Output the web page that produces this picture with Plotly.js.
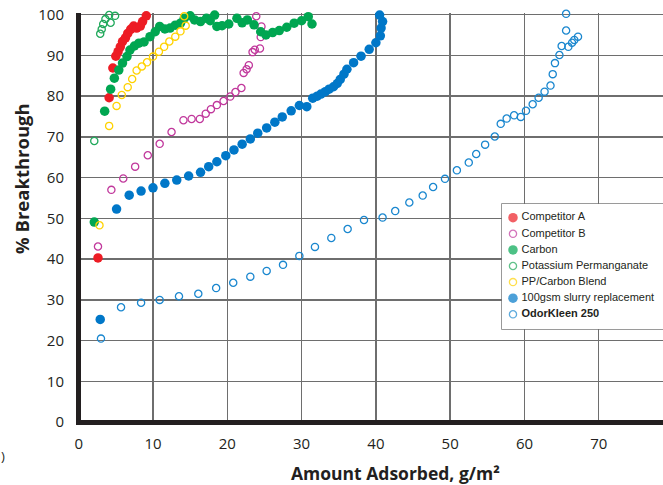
<!DOCTYPE html>
<html><head><meta charset="utf-8">
<script src="https://cdn.plot.ly/plotly-3.0.1.min.js"></script>
<style>html,body{margin:0;padding:0;background:#fff}</style>
</head><body>
<div id="chart" style="width:663px;height:485px"></div>
<script>
// ---- data ----
const seriesNames = ["Competitor A", "Competitor B", "Carbon", "Potassium Permanganate", "PP/Carbon Blend", "100gsm slurry replacement", "OdorKleen 250"];

const compA_x = [2.6, 4.1, 4.6, 5.0, 5.3, 5.6, 5.9, 6.3, 6.6, 7.0, 7.4, 7.8, 8.3, 8.6, 9.1];
const compA_y = [40.3, 79.6, 86.9, 89.8, 90.9, 92.1, 93.4, 94.3, 95.4, 96.4, 97.2, 96.7, 97.2, 98.3, 99.7];

const compB_x = [2.6, 4.4, 6.0, 7.6, 9.3, 10.9, 12.5, 14.1, 15.2, 16.3, 17.1, 17.8, 18.6, 19.5, 20.4, 21.1, 21.9, 22.2, 22.6, 22.9, 23.4, 23.7, 24.4, 24.5, 24.6, 23.9];
const compB_y = [43.1, 57.0, 59.8, 62.7, 65.5, 68.3, 71.2, 74.1, 74.4, 74.4, 75.7, 76.8, 77.8, 78.8, 79.9, 81.0, 82.0, 85.7, 86.6, 87.6, 90.8, 91.4, 91.7, 94.5, 97.1, 99.6];

const carbon_x = [2.1, 3.5, 4.3, 4.8, 5.4, 5.9, 6.5, 6.9, 7.5, 8.1, 8.8, 9.6, 10.3, 10.9, 11.6, 12.3, 13.0, 13.7, 14.2, 15.0, 15.6, 16.4, 17.2, 17.7, 18.3, 18.6, 19.3, 20.2, 21.3, 22.0, 22.7, 23.6, 24.5, 25.2, 26.1, 27.0, 28.0, 29.0, 30.0, 30.9, 31.4];
const carbon_y = [49.1, 76.3, 81.7, 84.4, 86.4, 88.1, 89.7, 91.3, 92.3, 93.0, 93.3, 94.6, 95.8, 97.1, 96.5, 96.7, 97.4, 97.9, 99.1, 99.7, 98.7, 98.3, 99.1, 98.5, 99.9, 97.1, 97.3, 97.7, 99.1, 98.0, 98.7, 97.5, 95.8, 95.0, 95.6, 96.1, 96.9, 97.9, 98.5, 99.5, 97.7];

const kmno4_x = [2.1, 2.9, 3.1, 3.3, 3.6, 4.1, 4.3, 4.9];
const kmno4_y = [69.0, 95.3, 96.4, 97.7, 98.9, 99.9, 98.0, 99.7];

const blend_x = [2.8, 4.1, 5.1, 5.8, 6.6, 7.2, 7.8, 8.5, 9.2, 10.0, 10.8, 11.5, 12.2, 13.0, 13.7, 14.4, 14.2];
const blend_y = [48.3, 72.7, 77.6, 80.3, 82.2, 84.2, 86.3, 87.3, 88.3, 89.7, 90.9, 92.1, 93.4, 94.6, 95.9, 97.3, 99.6];

const slurry_x = [2.9, 5.1, 6.8, 8.4, 10.0, 11.6, 13.2, 14.8, 16.4, 17.5, 18.6, 19.8, 20.9, 22.0, 23.1, 24.1, 25.3, 26.4, 27.4, 28.6, 29.7, 30.7, 31.5, 32.1, 32.6, 33.2, 33.7, 34.3, 34.8, 35.2, 35.7, 36.1, 37.0, 38.0, 39.1, 40.0, 40.6, 40.7, 40.9, 40.5];
const slurry_y = [25.2, 52.3, 55.7, 56.7, 57.5, 58.6, 59.4, 60.4, 61.3, 62.7, 63.9, 65.4, 66.8, 68.2, 69.5, 70.9, 72.2, 73.6, 74.9, 76.4, 77.7, 77.4, 79.5, 80.0, 80.5, 81.1, 81.7, 82.3, 83.1, 84.1, 85.4, 86.6, 88.2, 89.8, 91.5, 93.1, 94.8, 96.7, 98.3, 99.9];

const odor_x = [3.0, 5.7, 8.4, 10.9, 13.5, 16.1, 18.5, 20.8, 23.1, 25.3, 27.5, 29.7, 31.8, 34.0, 36.2, 38.4, 40.9, 42.6, 44.5, 46.3, 47.7, 49.3, 50.9, 52.5, 53.5, 54.7, 56.0, 56.8, 57.6, 58.6, 59.5, 60.2, 61.1, 61.9, 62.7, 63.5, 63.8, 64.1, 64.7, 65.0, 65.9, 66.4, 66.7, 67.2, 65.6, 65.6];
const odor_y = [20.5, 28.2, 29.3, 30.0, 30.9, 31.5, 32.9, 34.2, 35.7, 37.1, 38.6, 40.8, 43.0, 45.2, 47.4, 49.6, 50.2, 51.8, 53.9, 55.6, 57.7, 59.7, 61.8, 63.7, 65.8, 68.1, 70.1, 73.2, 74.5, 75.3, 74.9, 76.4, 78.0, 79.6, 81.1, 82.6, 85.4, 88.1, 90.1, 92.3, 92.1, 93.1, 93.8, 94.6, 96.1, 100.2];

const xTickVals = [0, 10, 20, 30, 40, 50, 60, 70];
const yTickVals = [0, 10, 20, 30, 40, 50, 60, 70, 80, 90, 100];

// ---- styles ----
const seriesX = [compA_x, compB_x, carbon_x, kmno4_x, blend_x, slurry_x, odor_x];
const seriesY = [compA_y, compB_y, carbon_y, kmno4_y, blend_y, slurry_y, odor_y];
const seriesColors = ["#ed1c24", "#c1389c", "#00a651", "#1fa85a", "#ffd200", "#0077c8", "#1a87cf"];
const seriesSymbols = ["circle", "circle-open", "circle", "circle-open", "circle-open", "circle", "circle-open"];

const traces = seriesNames.map((n, i) => ({
  type: "scatter", mode: "markers", name: n,
  x: seriesX[i], y: seriesY[i], cliponaxis: false, showlegend: false,
  marker: {
    symbol: seriesSymbols[i], color: seriesColors[i],
    size: seriesSymbols[i] === "circle" ? 9.5 : 7.2,
    line: {width: seriesSymbols[i] === "circle" ? 0 : 1.3, color: seriesColors[i]}
  },
  hoverinfo: "skip"
}));

// custom legend on an auxiliary subplot (units are pixels inside the box)
const legY = seriesNames.map((n, i) => 111.3 - 16.1 * i);
traces.push({
  type: "scatter", mode: "markers", xaxis: "x2", yaxis: "y2", showlegend: false,
  x: seriesNames.map(() => 11), y: legY, cliponaxis: false,
  marker: {
    symbol: seriesSymbols, color: seriesColors,
    size: seriesSymbols.map(s => s === "circle" ? 9.5 : 7.2),
    line: {width: seriesSymbols.map(s => s === "circle" ? 0 : 1.3), color: seriesColors}
  }, hoverinfo: "skip"
});
traces.push({
  type: "scatter", mode: "text", xaxis: "x2", yaxis: "y2", showlegend: false,
  x: seriesNames.map(() => 19.5), y: legY, cliponaxis: false,
  text: seriesNames.map((n, i) => i === seriesNames.length - 1 ? "<b>" + n + "</b>" : n),
  textposition: "middle right",
  textfont: {family: "Liberation Sans, Arial, sans-serif", size: 11, color: "#231f20"},
  hoverinfo: "skip"
});

const tickFont = {family: "Open Sans, sans-serif", size: 15, color: "#231f20"};
const layout = {
  width: 663, height: 485,
  margin: {l: 76, r: 0, t: 13, b: 60},
  paper_bgcolor: "#ffffff", plot_bgcolor: "#ffffff",
  showlegend: false,
  xaxis: {
    range: [-0.36, 78.64], tickvals: xTickVals, ticktext: xTickVals.map(String),
    showgrid: true, gridcolor: "#6e6e6e", gridwidth: 1.4,
    zeroline: true, zerolinecolor: "#231f20", zerolinewidth: 5,
    showline: false, ticks: "", tickfont: tickFont, ticklabelstandoff: 8,
    fixedrange: true
  },
  yaxis: {
    range: [-0.7, 100.4], tickvals: yTickVals, ticktext: yTickVals.map(String),
    showgrid: true, gridcolor: "#6e6e6e", gridwidth: 1.4,
    zeroline: true, zerolinecolor: "#231f20", zerolinewidth: 5,
    showline: false, ticks: "", tickfont: tickFont, ticklabelstandoff: 11,
    fixedrange: true
  },
  xaxis2: {domain: [0.7257, 1], range: [0, 161], visible: false, anchor: "y2", fixedrange: true},
  yaxis2: {domain: [0.233, 0.5364], range: [0, 125], visible: false, anchor: "x2", fixedrange: true},
  shapes: [{
    type: "rect", xref: "x2 domain", yref: "y2 domain", x0: 0, x1: 1.02, y0: 0, y1: 1,
    layer: "below", fillcolor: "#ffffff", line: {color: "#7a7a7a", width: 1.5}
  }],
  annotations: [
    {text: "<b>Amount Adsorbed, g/m²</b>", xref: "paper", yref: "paper",
     x: (395 - 76) / 587, y: (425 - 473) / 412, xanchor: "center", yanchor: "middle",
     showarrow: false, font: {family: "Open Sans, sans-serif", size: 17.5, color: "#231f20"}},
    {text: "<b>% Breakthrough</b>", xref: "paper", yref: "paper", textangle: -90,
     x: (21 - 76) / 587, y: (425 - 179) / 412, xanchor: "center", yanchor: "middle",
     showarrow: false, font: {family: "Open Sans, sans-serif", size: 18.5, color: "#231f20"}},
    {text: ")", xref: "paper", yref: "paper",
     x: (0 - 76) / 587, y: (425 - 456) / 412, xanchor: "left", yanchor: "middle",
     showarrow: false, borderpad: 0, font: {family: "Open Sans, sans-serif", size: 13, color: "#231f20"}}
  ]
};

Plotly.newPlot("chart", traces, layout, {displayModeBar: false, staticPlot: true});
</script>
</body></html>
